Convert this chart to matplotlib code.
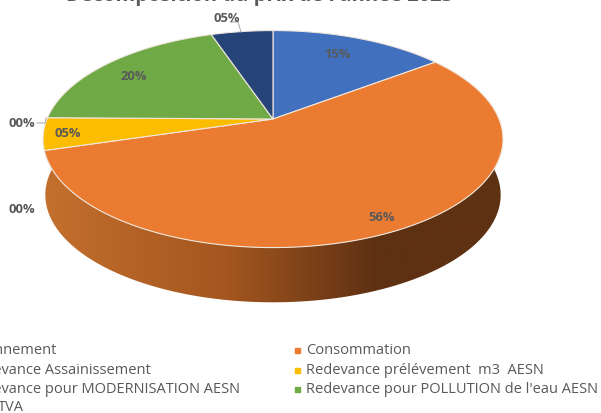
import numpy as np
import matplotlib
matplotlib.use("Agg")
import matplotlib.pyplot as plt
from matplotlib.patches import Polygon
from matplotlib.colors import LinearSegmentedColormap

title = "Décomposition du prix de l'année 2023"
categories = ["Abonnement", "Consommation", "Redevance Assainissement",
              "Redevance prélévement  m3  AESN", "Redevance pour MODERNISATION AESN",
              "Redevance pour POLLUTION de l'eau AESN", "TVA"]
values = [14.7, 55.7, 0.0, 4.8, 0.0, 19.6, 5.2]
colors = ["#4070be", "#ea7b31", "#a5a5a5", "#fcbd00", "#5b9bd5", "#6faa46", "#264478"]

# where each percentage goes, pixels of the image
label_pos = [(337, 55), (382, 218), (22, 210), (68, 134), (22, 124), (134, 77), (227, 19)]

# pie geometry in pixels, the perspective comes from k
cx, cy = 273, 120
b, a, k = 226, 104.8, 0.185
depth = 56

plt.rcParams['font.family'] = ['Open Sans', 'DejaVu Sans']
grey = "#595959"

def project(theta, shift=0.0, scale=1.0):
    # theta is clockwise from the top, in degrees
    u = np.sin(np.radians(theta))
    v = np.cos(np.radians(theta))
    d = 1 + k*v
    return np.column_stack((cx + scale*b*u/d, cy - scale*a*v/d + shift))

fig = plt.figure(figsize=(6.01, 4.14), dpi=100)
ax = fig.add_axes([0, 0, 1, 1])
ax.set_xlim(0, 601)
ax.set_ylim(414, 0)
ax.axis("off")

# side wall, gradient clipped to the front of the cylinder
front = np.linspace(60, 300, 240)
wall = np.vstack((project(front), project(front[::-1], depth, 0.99)))
wall_cmap = LinearSegmentedColormap.from_list("wall", [(0, "#c4702e"), (0.4, "#a3561f"),
                                                       (0.72, "#5f3113"), (1, "#5f3113")])
clip = Polygon(wall, closed=True, transform=ax.transData, fc="none", ec="none")
ax.add_patch(clip)
im = ax.imshow(np.linspace(0, 1, 256).reshape(1, -1), cmap=wall_cmap, aspect="auto",
               extent=(43, 503, 310, 140), zorder=1)
im.set_clip_path(clip)
ax.set_xlim(0, 601)
ax.set_ylim(414, 0)

# top face
edges = np.concatenate(([0], np.cumsum(values)))/np.sum(values)*360
for i in range(len(values)):
    if values[i] == 0:
        continue
    th = np.linspace(edges[i], edges[i+1], 120)
    pts = np.vstack(([[cx, cy]], project(th)))
    ax.add_patch(Polygon(pts, closed=True, fc=colors[i], ec="#f0e6dc", lw=0.8, zorder=2))

for val, pos in zip(values, label_pos):
    ax.text(pos[0], pos[1], "%02.0f%%" % val, ha="center", va="center", fontsize=9.4,
            fontweight="bold", color=grey, zorder=4)

# leader lines of the outside labels
ax.plot([37, 45, 46], [124, 124, 119], color="#a6a6a6", lw=0.7, zorder=3)
ax.plot([230, 238, 241], [23, 23, 33], color="#a6a6a6", lw=0.7, zorder=3)

ax.text(260, -3.5, title, ha="center", va="center", fontsize=14.5, fontweight="bold", color=grey)

# legend, the left column runs off the picture as in the source
col_x = [-33, 306]
row_y = [351, 371, 390, 408]
for i, name in enumerate(categories):
    x = col_x[i % 2]
    y = row_y[i//2]
    if name == "TVA":
        x = -2   # last row sits further in
    ax.plot([x-9], [y], marker="s", ms=3.6, color=colors[i], clip_on=False)
    ax.text(x, y, name, ha="left", va="center", fontsize=10.5, color=grey)

fig.savefig("out.png", dpi=100)
